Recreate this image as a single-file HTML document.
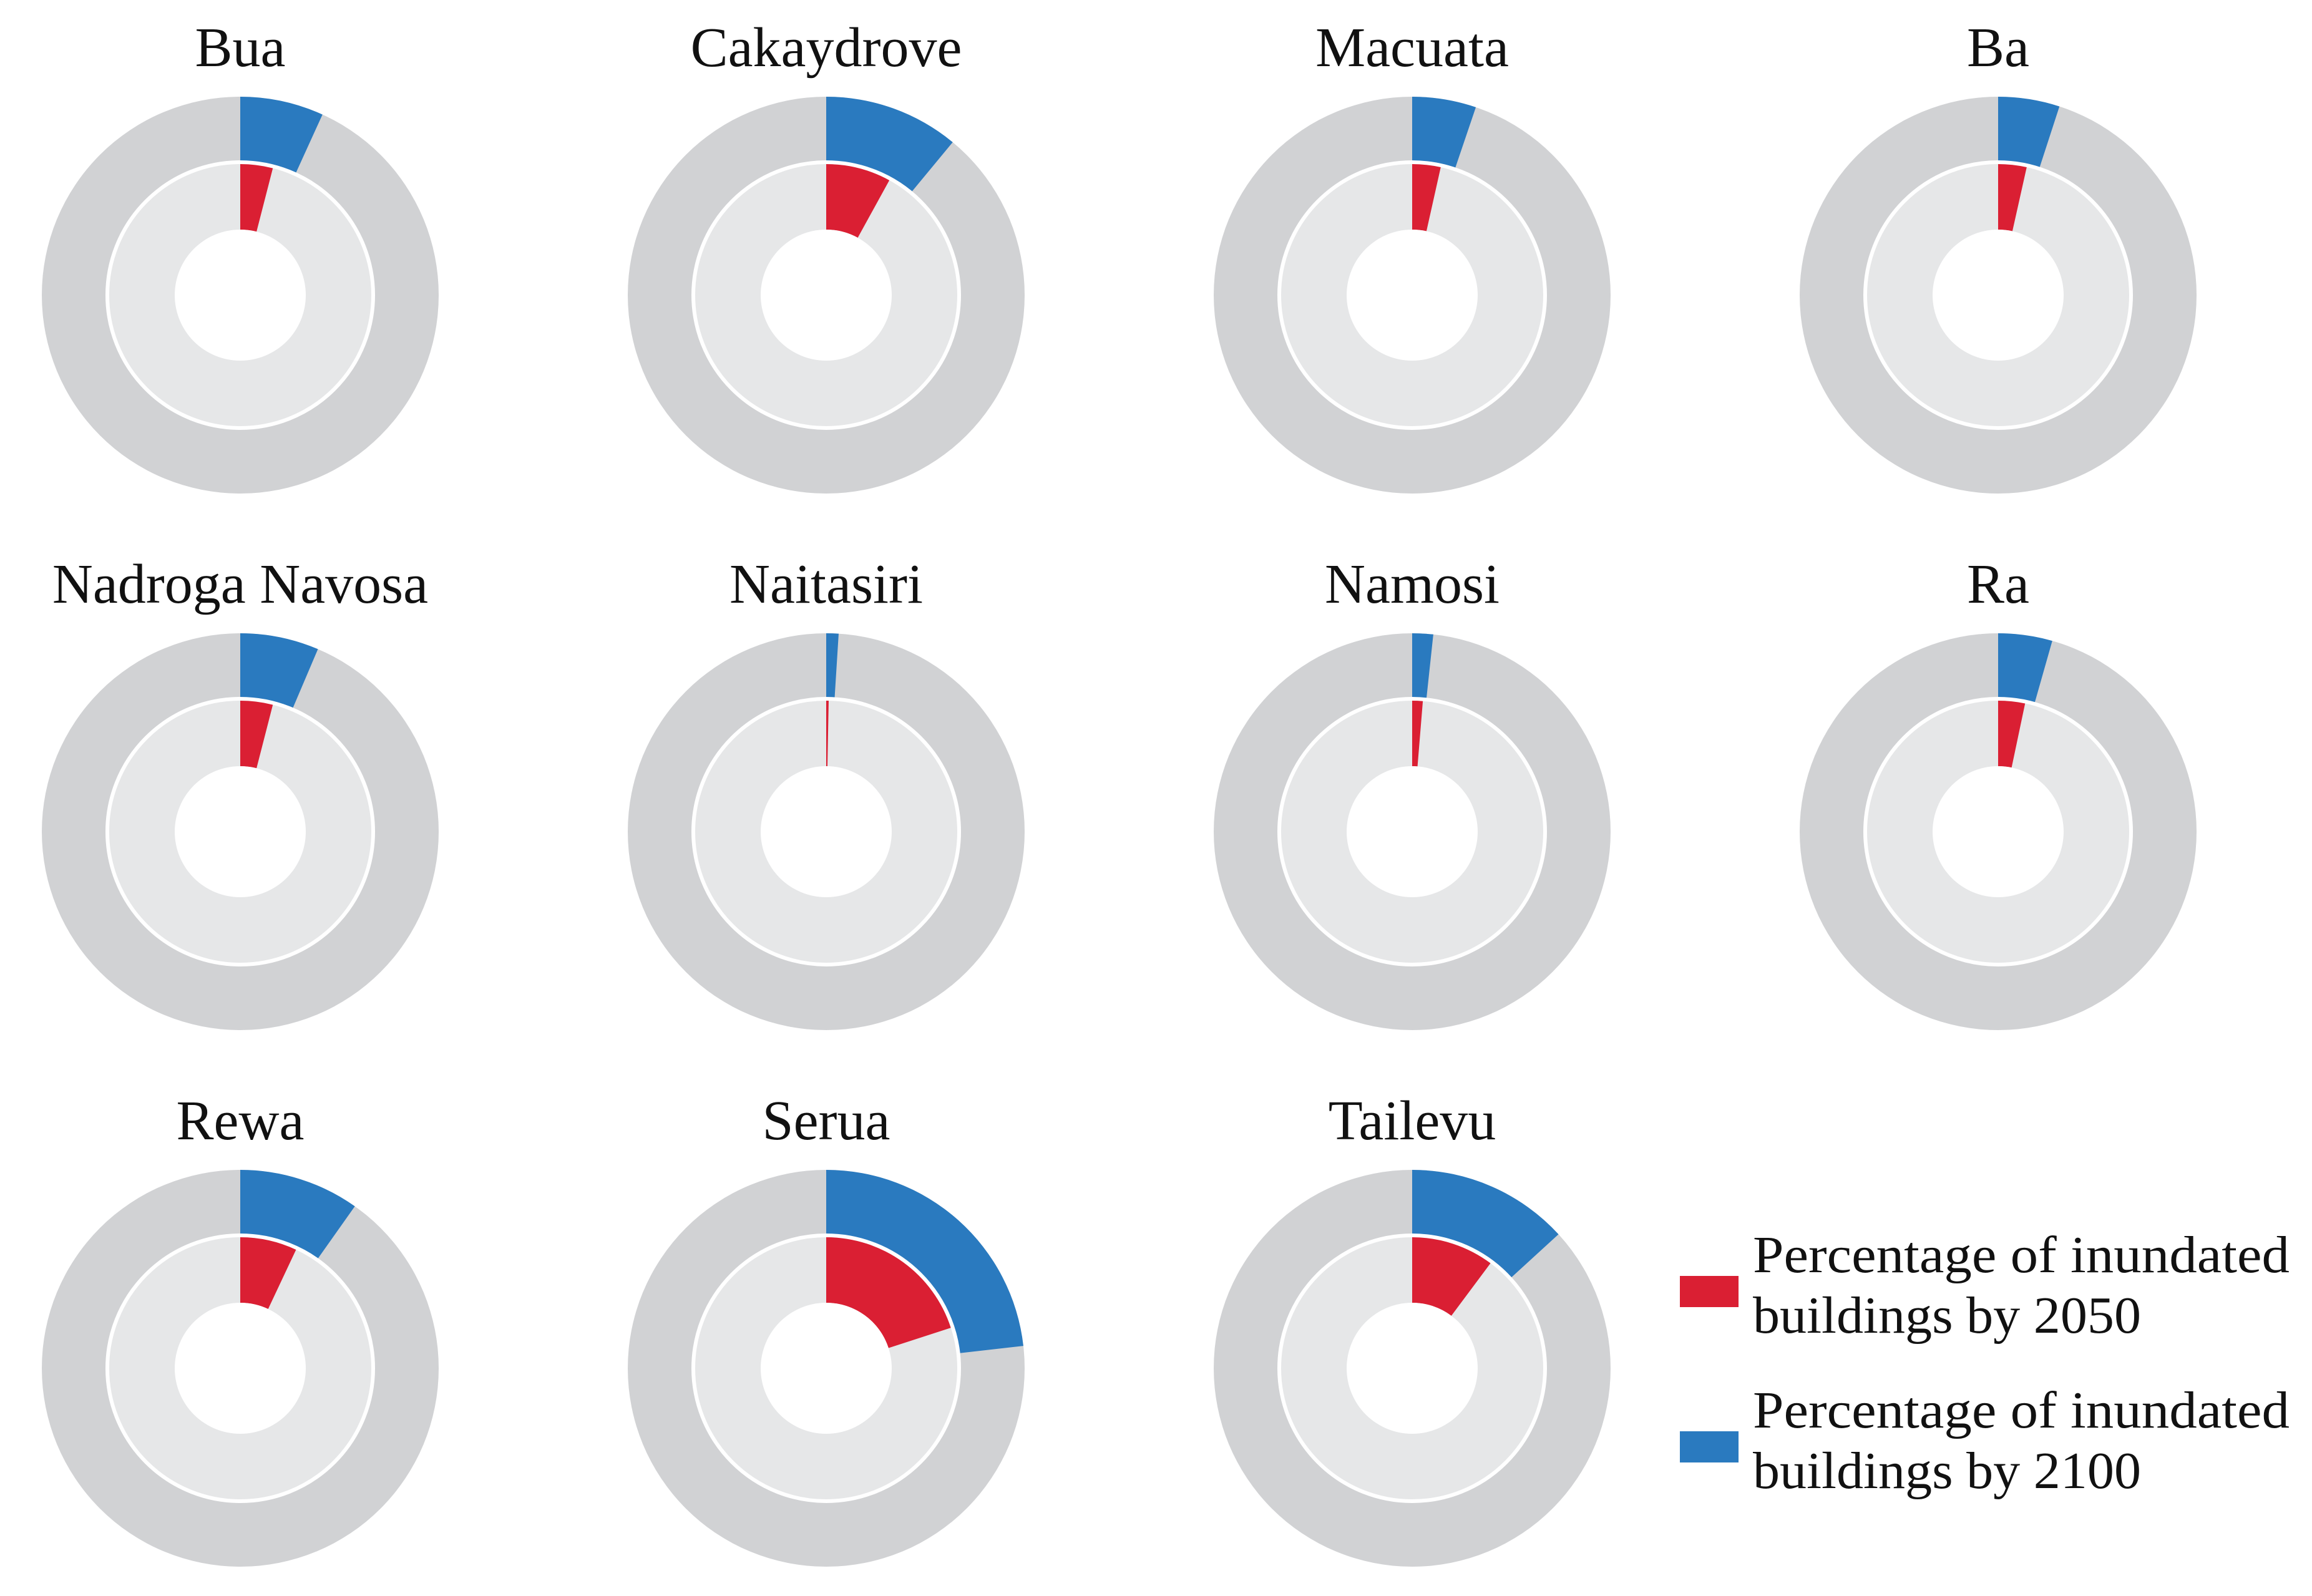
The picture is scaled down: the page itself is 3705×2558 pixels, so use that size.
<!DOCTYPE html>
<html><head><meta charset="utf-8"><style>
html,body{margin:0;padding:0;background:#fff;}
svg{display:block;}
text{font-family:"Liberation Serif",serif;fill:#111;}
</style></head><body>
<svg id="chart" width="3705" height="2558" viewBox="0 0 3705 2558" xmlns="http://www.w3.org/2000/svg">
<g id="panels"></g>
<g>
<rect x="2692" y="2045" width="94" height="50" fill="#da1f33"/>
<text x="2809" y="2039" font-size="84" textLength="860" lengthAdjust="spacingAndGlyphs">Percentage of inundated</text>
<text x="2809" y="2136" font-size="84" textLength="622" lengthAdjust="spacingAndGlyphs">buildings by 2050</text>
<rect x="2692" y="2294" width="94" height="50" fill="#2a7abf"/>
<text x="2809" y="2288" font-size="84" textLength="860" lengthAdjust="spacingAndGlyphs">Percentage of inundated</text>
<text x="2809" y="2385" font-size="84" textLength="622" lengthAdjust="spacingAndGlyphs">buildings by 2100</text>
</g>
</svg>
<script>
const provinces = ["Bua","Cakaydrove","Macuata","Ba","Nadroga Navosa","Naitasiri","Namosi","Ra","Rewa","Serua","Tailevu"];
const pct2050 = [4.0, 8.0, 3.5, 3.5, 4.0, 0.3, 1.3, 3.3, 7.0, 20.0, 10.2];
const pct2100 = [6.8, 11.0, 5.2, 5.0, 6.4, 1.0, 1.7, 4.4, 9.8, 23.2, 13.2];

const NS = "http://www.w3.org/2000/svg";
const colX = c => 385 + c * 939;
const rowY = r => 473 + r * 860;
const angle = p => p / 100 * 2 * Math.PI;
const R_OUT = 318, R_MID = 213, R_HOLE = 105, R_RED = 210;

function wedge(cx, cy, r0, r1, p) {
  const a = angle(p);
  const large = a > Math.PI ? 1 : 0;
  const x0o = cx, y0o = cy - r1, x1o = cx + r1 * Math.sin(a), y1o = cy - r1 * Math.cos(a);
  const x1i = cx + r0 * Math.sin(a), y1i = cy - r0 * Math.cos(a);
  return `M${x0o},${y0o} A${r1},${r1} 0 ${large} 1 ${x1o},${y1o} L${x1i},${y1i} A${r0},${r0} 0 ${large} 0 ${cx},${cy - r0} Z`;
}
function mk(tag, attrs) {
  const el = document.createElementNS(NS, tag);
  for (const k in attrs) el.setAttribute(k, attrs[k]);
  return el;
}
const root = document.getElementById("panels");
provinces.forEach((name, i) => {
  const cx = colX(i % 4), cy = rowY(Math.floor(i / 4));
  const g = mk("g", {});
  
  
  const t = mk("text", {x: cx, y: cy - 367, "text-anchor": "middle", "font-size": 90});
  
  
  t.textContent = name;
  g.appendChild(t);
  const outer = mk("circle", {cx, cy, r: R_OUT, fill: "#d1d2d4"});
  
  
  g.appendChild(outer);
  const blue = mk("path", {d: wedge(cx, cy, R_MID, R_OUT, pct2100[i]), fill: "#2a7abf"});
  
  
  g.appendChild(blue);
  const inner = mk("circle", {cx, cy, r: R_MID, fill: "#e6e7e8", stroke: "#fff", "stroke-width": 6});
  
  
  g.appendChild(inner);
  const red = mk("path", {d: wedge(cx, cy, R_HOLE, R_RED, pct2050[i]), fill: "#da1f33"});
  
  
  g.appendChild(red);
  const hole = mk("circle", {cx, cy, r: R_HOLE, fill: "#fff"});
  
  
  g.appendChild(hole);
  root.appendChild(g);
});
</script>
</body></html>
